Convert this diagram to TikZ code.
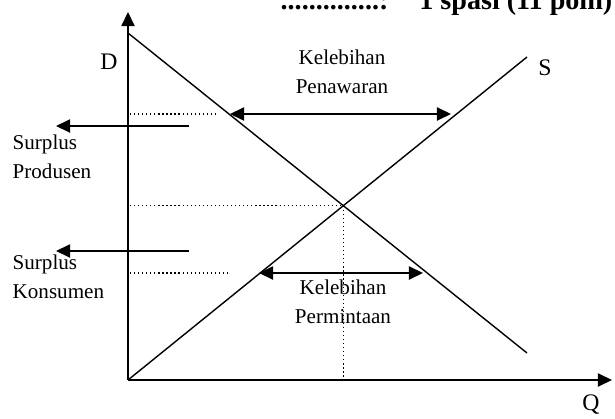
\documentclass[tikz,border=0pt]{standalone}
\usepackage{amsmath}
\usepackage{fontspec}
\setmainfont{Liberation Serif}
\usepackage{tikz}
\usetikzlibrary{arrows.meta,calc,positioning}

\begin{document}
\begin{tikzpicture}[x=0.02cm, y=-0.02cm, line width=0.8pt,
	tip/.style = {-{Triangle[length=8pt,width=7.5pt]}},
	twotip/.style = {{Triangle[length=8pt,width=7.5pt]}-{Triangle[length=8pt,width=7.5pt]}},
	guide/.style = {dash pattern=on 0.7pt off 1.6pt, line width=0.7pt},
	lbl/.style = {font=\fontsize{12}{16.5}\selectfont, align=center, inner sep=0pt},
	axlbl/.style = {font=\fontsize{13.5}{16}\selectfont, inner sep=0pt}]
\useasboundingbox (0,0) rectangle (615,419);
% axes and curves
\coordinate (O) at (128,380);
\coordinate (ytop) at (128,12);
\coordinate (xend) at (612,380);
\coordinate (D0) at (128,33);
\coordinate (D1) at (527,353);
\coordinate (S1) at (527,57);
\coordinate (E) at (intersection of D0--D1 and O--S1);
	\path[draw, tip] (O) -- (ytop);
	\path[draw, tip] (O) -- (xend);
	\path[draw] (D0) -- (D1);
	\path[draw] (O) -- (S1);
\node[axlbl] (dlab) at (109,62) {D};
\node[axlbl] (slab) at (545,68) {S};
\node[axlbl] (qlab) at (591,405) {Q};
% dotted guides
\coordinate (ghi) at (130,114);
\coordinate (ghiend) at (218,114);
\coordinate (glo) at (130,273);
\coordinate (gloend) at (230,273);
\coordinate (gmid) at (E -| ghi);
	\path[draw, guide] (ghi) -- (ghiend);
	\path[draw, guide] (glo) -- (gloend);
	\path[draw, guide] (gmid) -- (E);
	\path[draw, guide] (E) -- (E |- O);
% excess supply / demand
\coordinate (pw0) at (230,114);
\coordinate (pw1) at (451,114);
\coordinate (pm0) at (259,273);
\coordinate (pm1) at (423,273);
	\path[draw, twotip] (pw0) -- (pw1);
	\path[draw, twotip] (pm0) -- (pm1);
\node[lbl] (penawaran) at (342,72) {Kelebihan\\Penawaran};
\node[lbl] (permintaan) at (343,302) {Kelebihan\\Permintaan};
% surplus arrows
\coordinate (sp0) at (189,126);
\coordinate (sp1) at (56,126);
\coordinate (sk0) at (189,251);
\coordinate (sk1) at (56,251);
	\path[draw, tip] (sp0) -- (sp1);
	\path[draw, tip] (sk0) -- (sk1);
\node[lbl, align=left, anchor=west] (produsen) at (12,157) {Surplus\\Produsen};
\node[lbl, align=left, anchor=west] (konsumen) at (12,277) {Surplus\\Konsumen};
% heading cut at the top
\node[font=\fontsize{16}{18}\selectfont\bfseries, anchor=base east, inner sep=0pt] (heading) at (613,10) {..............:\hspace{1.1em}1 spasi (11 poin)};
\end{tikzpicture}
\end{document}
